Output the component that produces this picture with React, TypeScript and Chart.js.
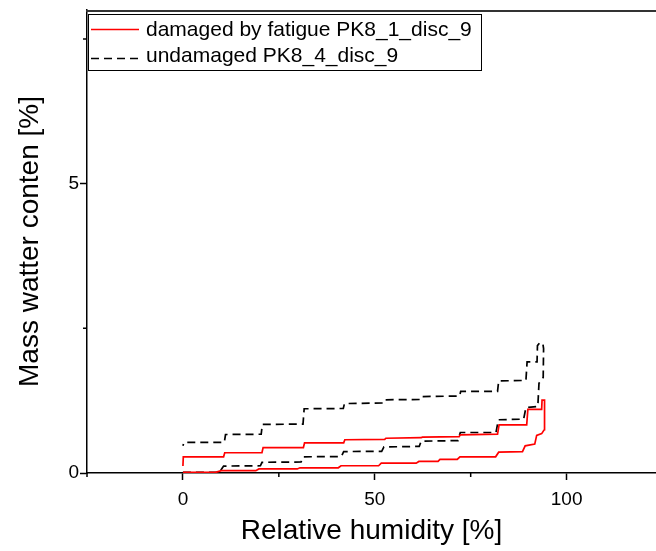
import React, { useEffect, useRef } from "react";
import { Chart, registerables } from "chart.js";

Chart.register(...registerables);

// ---- axis ranges & ticks ----
const X_MIN = -25;
const X_MAX = 123.3;
const Y_MIN = 0;
const Y_MAX = 8;
const xMajorTicks = [0, 50, 100];
const xMinorTicks = [-25, 25, 75];
const yMajorTicks = [0, 5];
const yMinorTicks = [2.5, 7.5];

const xTitle = "Relative humidity [%]";
const yTitle = "Mass watter conten [%]";
const seriesLabels = ["damaged by fatigue PK8_1_disc_9", "undamaged PK8_4_disc_9"];

// ---- damaged by fatigue (sorption then desorption) ----
const damagedRH = [
  0, 8.5, 10, 19, 19.8, 29.8, 30.5, 40.5, 41.2, 51,
  51.7, 60.8, 61.5, 66.5, 67, 71.5, 72.2, 81.5, 82.3, 88.5,
  89.2, 91.7, 92.2, 93.5, 94.2, 94.3, 94.2, 93.6, 93.5, 89.9,
  89.6, 82.4, 82.0, 72.3, 72.0, 62.4, 62.1, 52.9, 52.6, 42.2,
  41.9, 31.7, 31.4, 20.9, 20.6, 10.9, 10.6, 0.1, 0,
];
const damagedMC = [
  0.01, 0.01, 0.04, 0.04, 0.07, 0.07, 0.09, 0.09, 0.125, 0.125,
  0.17, 0.17, 0.2, 0.2, 0.235, 0.235, 0.28, 0.28, 0.36, 0.37,
  0.47, 0.5, 0.65, 0.68, 0.75, 1.2, 1.26, 1.26, 1.1, 1.1,
  0.83, 0.83, 0.67, 0.66, 0.63, 0.62, 0.61, 0.6, 0.58, 0.575,
  0.52, 0.52, 0.44, 0.44, 0.35, 0.35, 0.28, 0.28, 0.12,
];

// ---- undamaged (sorption then desorption) ----
const undamagedRH = [
  0, 9.5, 10.6, 20.2, 20.6, 30.8, 31.4, 41.3, 41.9, 51.8,
  52.4, 61.6, 62.1, 71.7, 72.3, 81.6, 82.2, 88.8, 89.4, 92.5,
  92.8, 93.9, 94.0, 93.8,
  93.0, 92.4, 92.3, 89.7, 89.4, 82.3, 82.0, 72.4, 72.1, 62.2,
  61.9, 52.6, 52.2, 42.1, 41.8, 31.6, 31.3, 20.7, 20.4, 11.1,
  10.8, 0.3, 0,
];
const undamagedMC = [
  0.01, 0.01, 0.12, 0.125, 0.185, 0.19, 0.28, 0.285, 0.37, 0.375,
  0.45, 0.46, 0.55, 0.56, 0.7, 0.7, 0.92, 0.93, 1.13, 1.15,
  1.55, 1.65, 2.15, 2.24,
  2.25, 2.2, 1.92, 1.92, 1.6, 1.59, 1.41, 1.41, 1.33, 1.32,
  1.27, 1.265, 1.21, 1.2, 1.115, 1.11, 0.845, 0.84, 0.67, 0.665,
  0.53, 0.53, 0.47,
];

const FONT = "'Liberation Sans', Arial, Helvetica, sans-serif";
const RED = "#ff0000";
const BLACK = "#000000";
const DASH = [8, 5];

const toPoints = (xs: number[], ys: number[]) => xs.map((x, i) => ({ x, y: ys[i] }));

const decorPlugin = {
  id: "decor",
  afterDraw(chart: any) {
    const { ctx, chartArea, scales } = chart;
    const xs = scales.x;
    const ys = scales.y;
    ctx.save();
    // top frame line
    ctx.strokeStyle = "#333";
    ctx.lineWidth = 2;
    ctx.beginPath();
    ctx.moveTo(chartArea.left - 1, chartArea.top + 1);
    ctx.lineTo(chartArea.right, chartArea.top + 1);
    ctx.stroke();
    // minor ticks
    ctx.strokeStyle = BLACK;
    ctx.lineWidth = 1.5;
    ctx.beginPath();
    xMinorTicks.forEach((v) => {
      const px = xs.getPixelForValue(v);
      ctx.moveTo(px, chartArea.bottom);
      ctx.lineTo(px, chartArea.bottom + 4);
    });
    yMinorTicks.forEach((v) => {
      const py = ys.getPixelForValue(v);
      ctx.moveTo(chartArea.left, py);
      ctx.lineTo(chartArea.left - 4, py);
    });
    ctx.stroke();

    // legend
    const bx = 88.5, by = 14.5, bw = 393, bh = 56;
    ctx.fillStyle = "#fff";
    ctx.fillRect(bx, by, bw, bh);
    ctx.strokeStyle = BLACK;
    ctx.lineWidth = 1;
    ctx.strokeRect(bx, by, bw, bh);
    const rows = [
      { y: 29.5, color: RED, dash: [] as number[], label: seriesLabels[0], ty: 30 },
      { y: 58.5, color: BLACK, dash: DASH, label: seriesLabels[1], ty: 56 },
    ];
    ctx.font = `21px ${FONT}`;
    ctx.textBaseline = "middle";
    ctx.textAlign = "left";
    rows.forEach((r) => {
      ctx.strokeStyle = r.color;
      ctx.lineWidth = 1.5;
      ctx.setLineDash(r.dash);
      ctx.beginPath();
      ctx.moveTo(91, r.y);
      ctx.lineTo(139, r.y);
      ctx.stroke();
      ctx.setLineDash([]);
      ctx.fillStyle = BLACK;
      ctx.fillText(r.label, 146, r.ty);
    });
    ctx.restore();
  },
};

export default function App() {
  const ref = useRef<HTMLCanvasElement | null>(null);

  useEffect(() => {
    if (!ref.current) return;
    const chart = new Chart(ref.current, {
      type: "scatter",
      data: {
        datasets: [
          {
            label: seriesLabels[0],
            data: toPoints(damagedRH, damagedMC),
            showLine: true,
            borderColor: RED,
            backgroundColor: RED,
            borderWidth: 1.7,
            pointRadius: 0,
            tension: 0,
          },
          {
            label: seriesLabels[1],
            data: toPoints(undamagedRH, undamagedMC),
            showLine: true,
            borderColor: BLACK,
            backgroundColor: BLACK,
            borderWidth: 1.7,
            borderDash: DASH,
            pointRadius: 0,
            tension: 0,
          },
        ],
      },
      options: {
        responsive: false,
        animation: false,
        devicePixelRatio: 1,
        layout: { padding: { top: 10, right: 0, left: 0, bottom: 0 } },
        plugins: { legend: { display: false }, tooltip: { enabled: false } },
        scales: {
          x: {
            type: "linear",
            min: X_MIN,
            max: X_MAX,
            afterBuildTicks: (s: any) => {
              s.ticks = xMajorTicks.map((v) => ({ value: v }));
            },
            afterFit: (s: any) => {
              s.height = 78;
              s.paddingLeft = 0;
              s.paddingRight = 0;
            },
            ticks: {
              color: BLACK,
              font: { family: FONT, size: 19 },
              padding: 8,
              maxRotation: 0,
              autoSkip: false,
              callback: (v: any) => String(v),
            },
            grid: {
              display: true,
              drawOnChartArea: false,
              drawTicks: true,
              tickLength: 7,
              tickColor: BLACK,
              tickWidth: 1.5,
            },
            border: { display: true, color: BLACK, width: 1.5 },
            title: {
              display: true,
              text: xTitle,
              color: BLACK,
              font: { family: FONT, size: 28 },
              padding: { top: 0, bottom: 3 },
            },
          },
          y: {
            type: "linear",
            min: Y_MIN,
            max: Y_MAX,
            afterBuildTicks: (s: any) => {
              s.ticks = yMajorTicks.map((v) => ({ value: v }));
            },
            afterFit: (s: any) => {
              s.width = 87;
              s.paddingTop = 0;
              s.paddingBottom = 0;
            },
            ticks: {
              color: BLACK,
              font: { family: FONT, size: 19 },
              padding: 1,
              autoSkip: false,
              callback: (v: any) => String(v),
            },
            grid: {
              display: true,
              drawOnChartArea: false,
              drawTicks: true,
              tickLength: 7,
              tickColor: BLACK,
              tickWidth: 1.5,
            },
            border: { display: true, color: BLACK, width: 1.5 },
            title: {
              display: true,
              text: yTitle,
              color: BLACK,
              font: { family: FONT, size: 28 },
              padding: { top: 13, bottom: 0 },
            },
          },
        },
      },
      plugins: [decorPlugin],
    });
    return () => chart.destroy();
  }, []);

  return (
    <div style={{ position: "absolute", left: 0, top: 0, width: 656, height: 551, background: "#fff" }}>
      <canvas ref={ref} width={656} height={551} style={{ width: 656, height: 551, display: "block" }} />
    </div>
  );
}
